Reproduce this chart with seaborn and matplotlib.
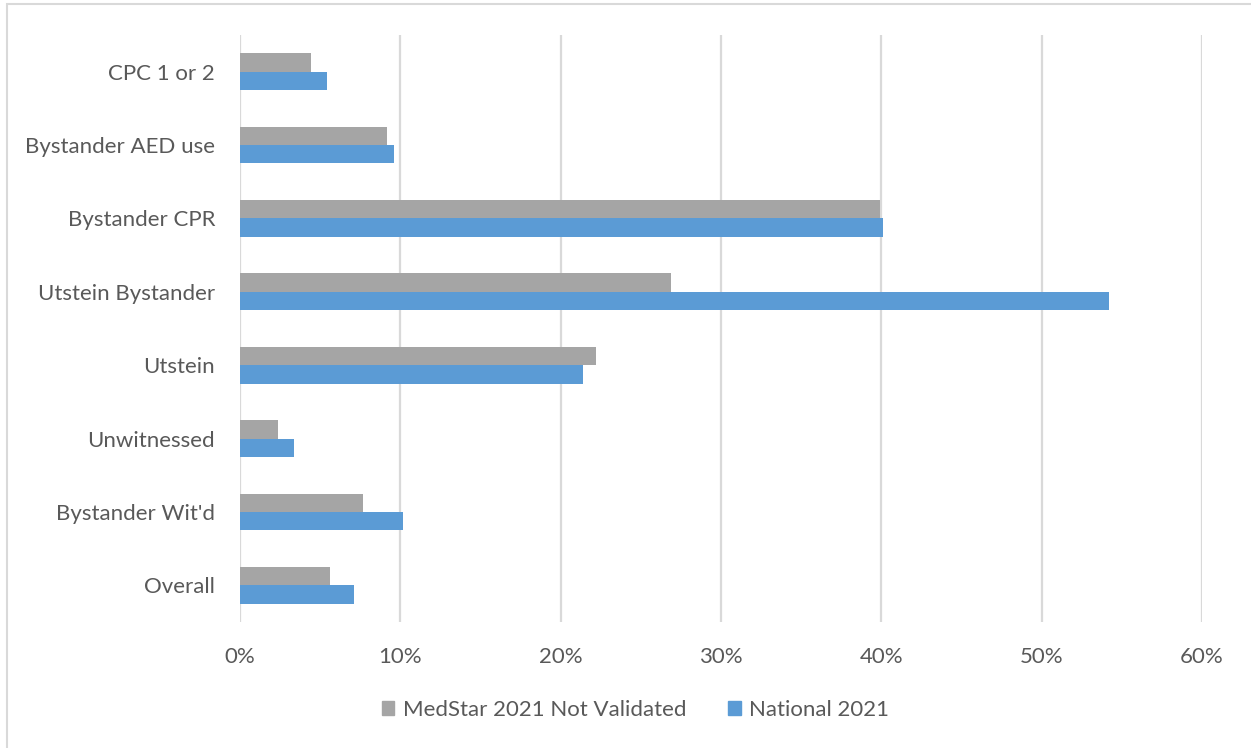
import matplotlib
matplotlib.use("Agg")
import matplotlib.pyplot as plt
import matplotlib.patches as mpatches
from matplotlib.ticker import PercentFormatter
import seaborn as sns
import pandas as pd

categories = ["CPC 1 or 2", "Bystander AED use", "Bystander CPR", "Utstein Bystander",
              "Utstein", "Unwitnessed", "Bystander Wit'd", "Overall"]
medstar = [4.4, 9.15, 39.9, 26.9, 22.2, 2.35, 7.7, 5.6]
national = [5.4, 9.6, 40.1, 54.2, 21.4, 3.35, 10.15, 7.1]
series_names = ["MedStar 2021 Not Validated", "National 2021"]
colors = ["#A5A5A5", "#5B9BD5"]
xticks = [0, 10, 20, 30, 40, 50, 60]

df = pd.DataFrame({
    "category": categories * 2,
    "value": medstar + national,
    "series": [series_names[0]] * len(categories) + [series_names[1]] * len(categories),
})

sns.set_theme(style="white")
plt.rcParams["font.family"] = ["Lato", "DejaVu Sans"]
text_color = "#595959"
grid_color = "#D9D9D9"

fig = plt.figure(figsize=(12.51, 7.48), dpi=100)
ax = fig.add_axes([240 / 1251, 1 - 622 / 748, (1202 - 240) / 1251, (622 - 35) / 748])

sns.barplot(data=df, x="value", y="category", hue="series", order=categories,
            hue_order=series_names, palette=colors, saturation=1, width=0.5,
            orient="h", dodge=True, linewidth=0, legend=False, ax=ax)

ax.set_xlim(0, 60)
ax.set_xticks(xticks)
ax.xaxis.set_major_formatter(PercentFormatter(xmax=100, decimals=0))
ax.set_xlabel("")
ax.set_ylabel("")
ax.grid(axis="x", color=grid_color, linewidth=1.6)
ax.grid(axis="y", visible=False)
ax.set_axisbelow(True)
for s in ax.spines.values():
    s.set_visible(False)
ax.tick_params(axis="both", length=0, colors=text_color, labelsize=16)
ax.tick_params(axis="y", pad=18)
ax.tick_params(axis="x", pad=18)

# outer chart frame
frame = mpatches.Rectangle((7 / 1251, -0.01), 1.02, 1 - 4 / 748 + 0.01, transform=fig.transFigure,
                           fill=False, edgecolor=grid_color, linewidth=1.5, zorder=0)
fig.patches.append(frame)

handles = [mpatches.Patch(color=c, label=n) for c, n in zip(colors, series_names)]
leg = fig.legend(handles=handles, loc="center", bbox_to_anchor=(0.508, 1 - 710 / 748),
                 ncol=2, frameon=False, fontsize=16, handlelength=0.55, handleheight=0.55,
                 handletextpad=0.4, columnspacing=1.9, labelcolor=text_color)

fig.savefig("out.png", dpi=100)
